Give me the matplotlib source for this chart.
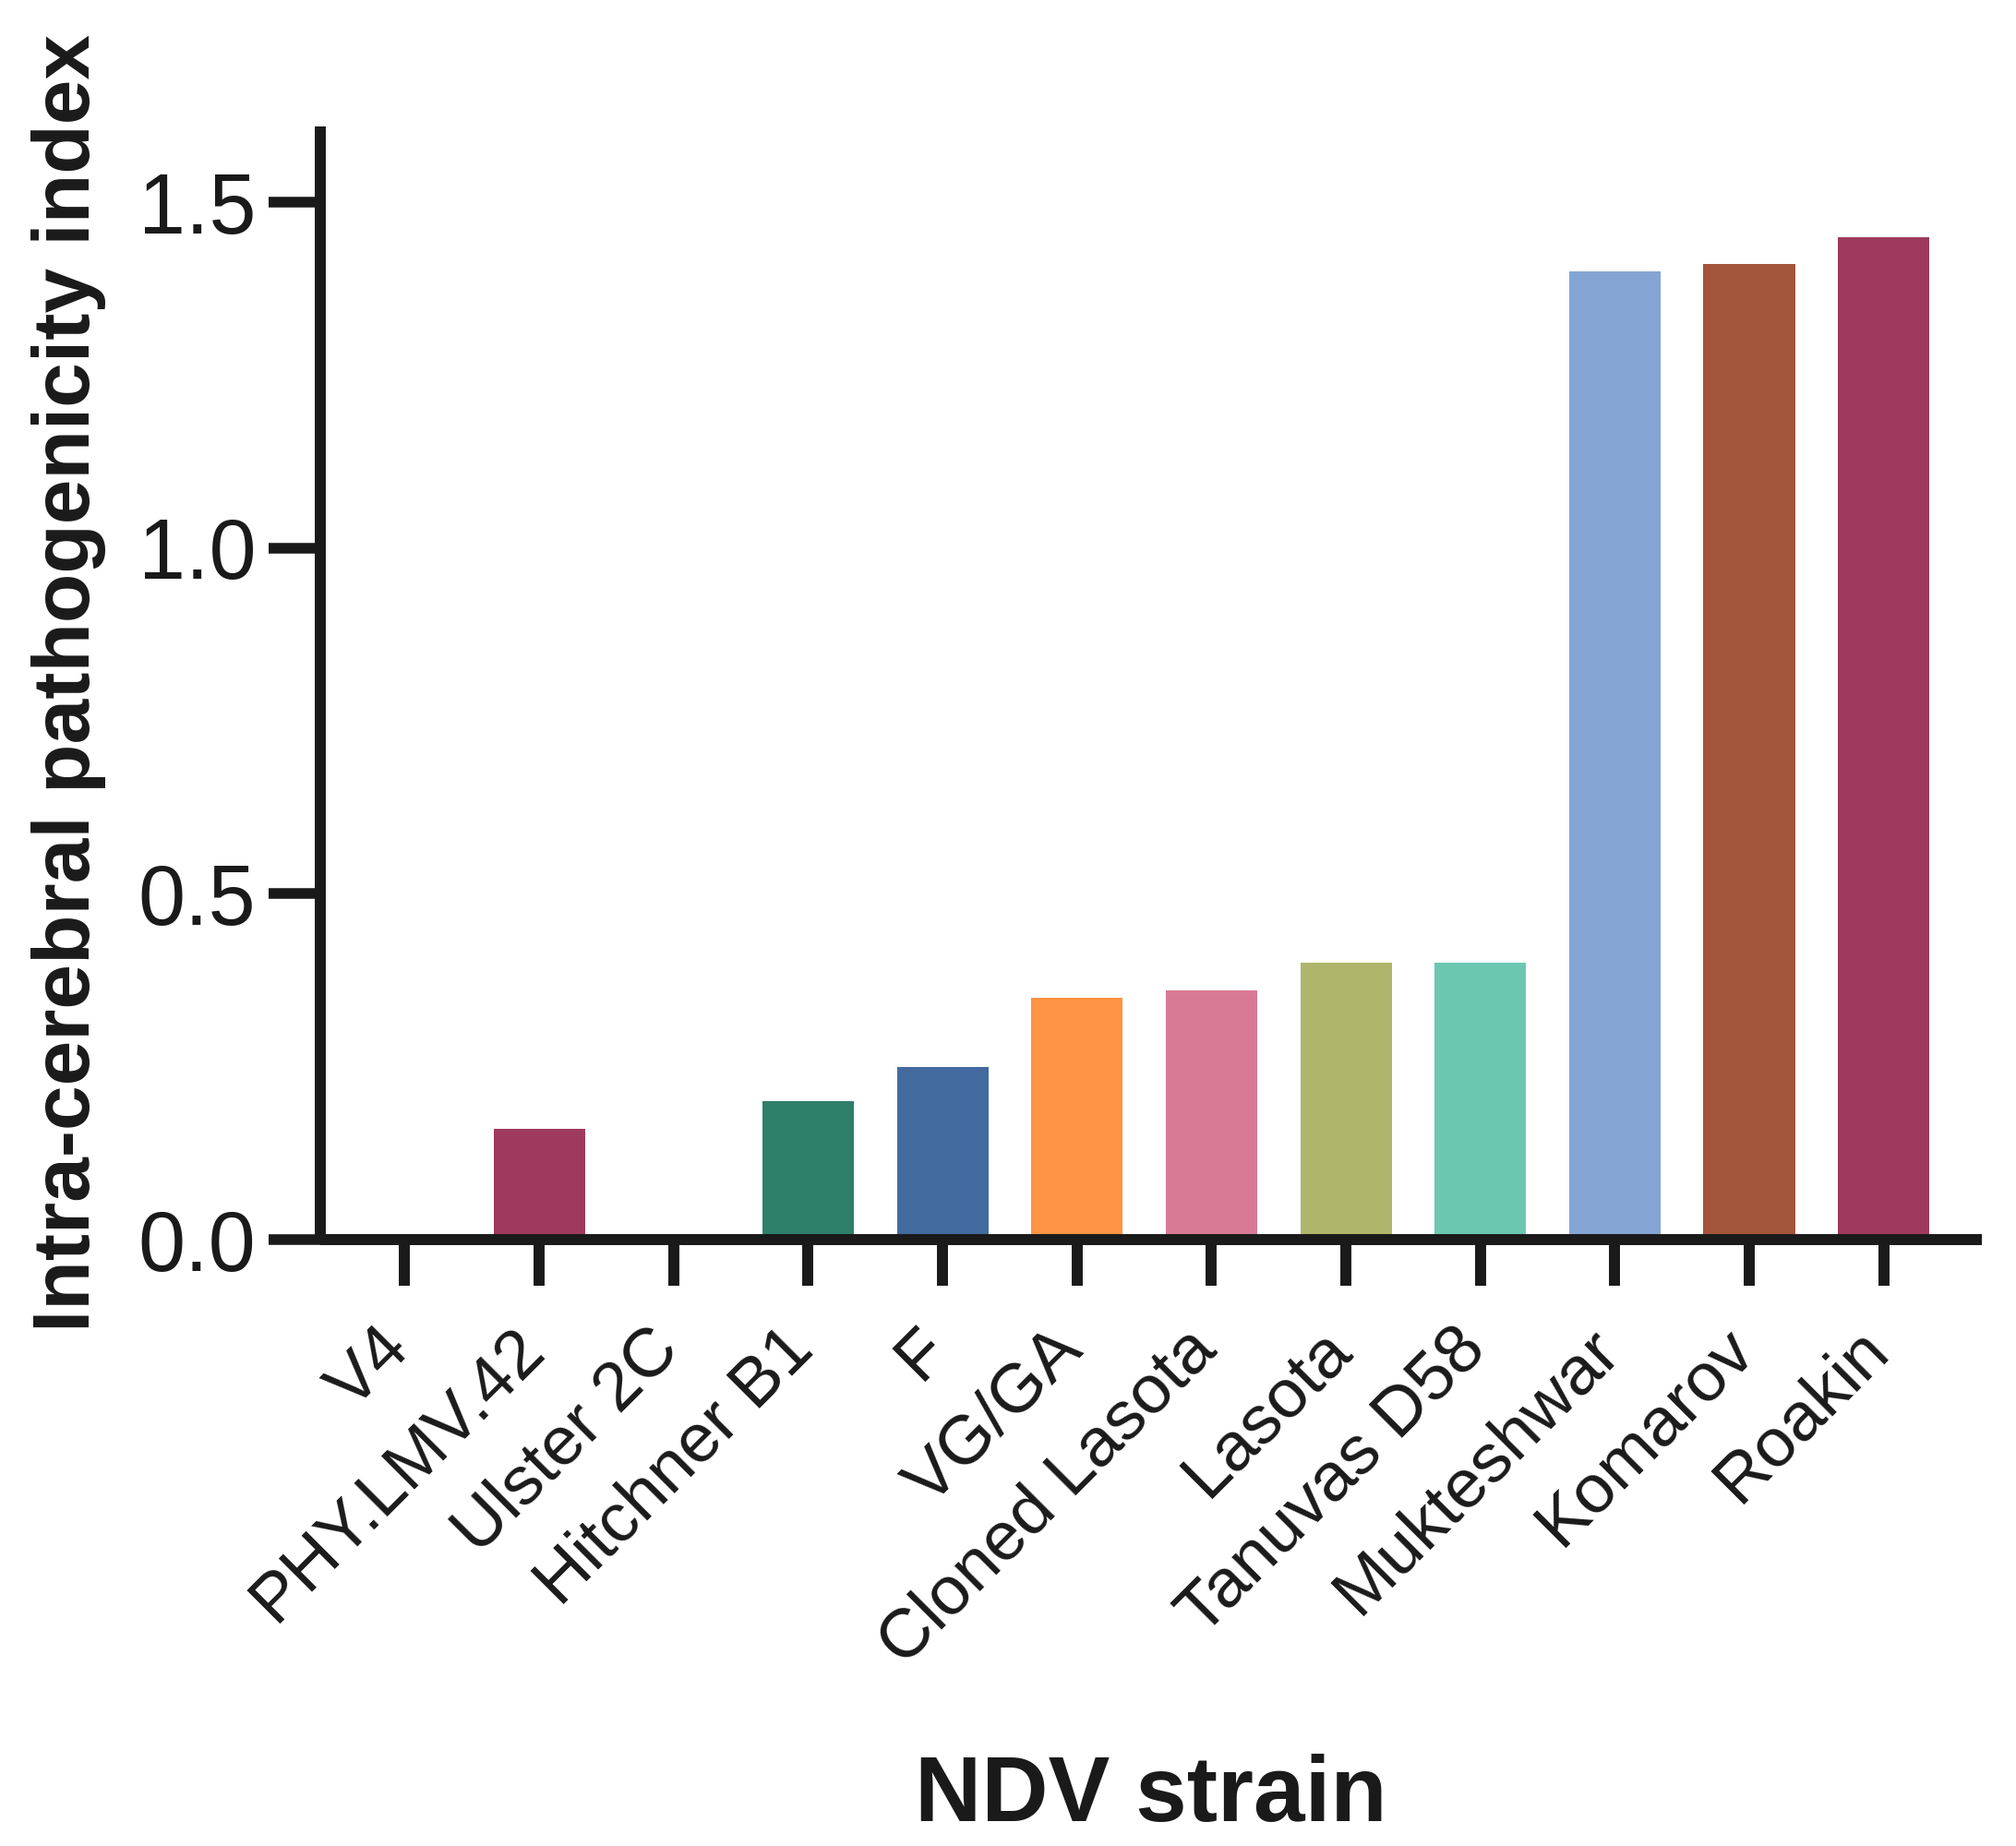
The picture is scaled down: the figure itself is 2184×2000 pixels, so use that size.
import matplotlib.pyplot as plt
from matplotlib.transforms import ScaledTranslation
import numpy as np

plt.rcParams['font.family'] = ['Liberation Sans', 'DejaVu Sans']

# --- Data ---
strains = ["V4", "PHY.LMV.42", "Ulster 2C", "Hitchner B1", "F", "VG/GA",
           "Cloned Lasota", "Lasota", "Tanuvas D58", "Mukteshwar", "Komarov", "Roakin"]
icpi = [0.0, 0.16, 0.0, 0.2, 0.25, 0.35, 0.36, 0.4, 0.4, 1.40, 1.41, 1.45]
colors = ["#9e3a5e", "#9e3a5e", "#2e7f6a", "#2e7f6a", "#436a9f", "#fe9345",
          "#d87a95", "#afb66c", "#6cc7b1", "#84a5d4", "#a3553c", "#9e3a5e"]
yticks = [0.0, 0.5, 1.0, 1.5]

ink = '#1a1a1a'

# --- Plot ---
fig = plt.figure(figsize=(21.84, 20), dpi=100)
ax = fig.add_axes([346.7 / 2184, 1 - 1343 / 2000, (2147 - 346.7) / 2184, (1343 - 137) / 2000])

x = np.arange(len(strains))
ax.bar(x, icpi, width=0.68, color=colors, edgecolor='none', zorder=2)

ax.set_xlim(-0.63, 11.73)
ax.set_ylim(0, 1.6095)
ax.set_yticks(yticks)
ax.set_yticklabels([f"{v:.1f}" for v in yticks])
ax.set_xticks(x)
ax.set_xticklabels(strains, rotation=45, ha='right', va='top', rotation_mode='anchor')

for side in ['top', 'right']:
    ax.spines[side].set_visible(False)
for side in ['left', 'bottom']:
    ax.spines[side].set_linewidth(8.6)
    ax.spines[side].set_color(ink)
    ax.spines[side].set_zorder(3)
    ax.spines[side].set_capstyle('butt')

ax.tick_params(axis='y', length=40, width=8.3, color=ink, labelsize=66,
               pad=10, labelcolor=ink)
ax.tick_params(axis='x', length=36, width=8.6, color=ink, labelsize=54,
               pad=24, labelcolor=ink)

# shift rotated strain labels slightly left of their ticks
shift = ScaledTranslation(-0.30, 0, fig.dpi_scale_trans)
for lab in ax.get_xticklabels():
    lab.set_transform(lab.get_transform() + shift)

ax.set_ylabel("Intra-cerebral pathogenicity index", fontsize=63, fontweight='bold',
              color=ink)
ax.yaxis.set_label_coords(-0.1287, 0.5)

ax.set_xlabel("NDV strain", fontsize=72, fontweight='bold', color=ink)
ax.xaxis.label.set_va('baseline')
ax.xaxis.set_label_coords(0.5, -0.522)

fig.savefig("out.png", dpi=100)
